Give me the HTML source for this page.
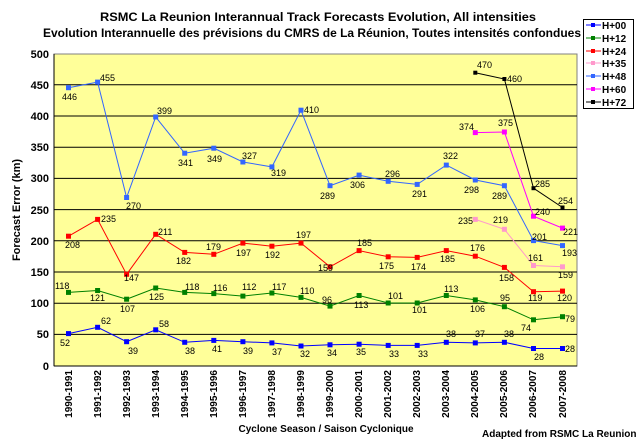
<!DOCTYPE html>
<html><head><meta charset="utf-8"><style>
body{margin:0;background:#fff;}
svg{display:block;font-family:"Liberation Sans",Arial,sans-serif;}
.t{font-weight:bold;font-size:12px;}
.yl{font-weight:bold;font-size:11px;text-anchor:end;}
.xl{font-weight:bold;font-size:10px;text-anchor:end;}
.d{font-size:9px;}
.lg{font-weight:bold;font-size:10px;}
</style></head><body>
<svg width="640" height="440" viewBox="0 0 640 440">
<text class="t" x="318" y="21" text-anchor="middle" textLength="436" lengthAdjust="spacingAndGlyphs">RSMC La Reunion Interannual Track Forecasts Evolution, All intensities</text>
<text class="t" x="43" y="37" textLength="538" lengthAdjust="spacingAndGlyphs">Evolution Interannuelle des prévisions du CMRS de La Réunion, Toutes intensités confondues</text>
<rect x="54" y="54" width="523" height="312" fill="#ffff99" stroke="#808080" stroke-width="1"/>
<g stroke="#000" stroke-width="1">
<line x1="54" x2="577" y1="84.8" y2="84.8"/><line x1="54" x2="577" y1="116" y2="116"/><line x1="54" x2="577" y1="147.2" y2="147.2"/><line x1="54" x2="577" y1="178.4" y2="178.4"/><line x1="54" x2="577" y1="209.6" y2="209.6"/><line x1="54" x2="577" y1="240.8" y2="240.8"/><line x1="54" x2="577" y1="272" y2="272"/><line x1="54" x2="577" y1="303.2" y2="303.2"/><line x1="54" x2="577" y1="334.4" y2="334.4"/>
<line x1="54" x2="54" y1="54" y2="366"/><line x1="54" x2="577" y1="366" y2="366"/>
</g>
<g class="yl">
<text x="49" y="58">500</text><text x="49" y="89">450</text><text x="49" y="120">400</text><text x="49" y="151">350</text><text x="49" y="182">300</text><text x="49" y="214">250</text><text x="49" y="245">200</text><text x="49" y="276">150</text><text x="49" y="307">100</text><text x="49" y="338">50</text><text x="49" y="370">0</text>
</g>
<g class="xl">
<text transform="translate(72,370) rotate(-90)">1990-1991</text>
<text transform="translate(101,370) rotate(-90)">1991-1992</text>
<text transform="translate(130,370) rotate(-90)">1992-1993</text>
<text transform="translate(159,370) rotate(-90)">1993-1994</text>
<text transform="translate(188,370) rotate(-90)">1994-1995</text>
<text transform="translate(217,370) rotate(-90)">1995-1996</text>
<text transform="translate(246,370) rotate(-90)">1996-1997</text>
<text transform="translate(275,370) rotate(-90)">1997-1998</text>
<text transform="translate(304,370) rotate(-90)">1998-1999</text>
<text transform="translate(333,370) rotate(-90)">1999-2000</text>
<text transform="translate(362,370) rotate(-90)">2000-2001</text>
<text transform="translate(391,370) rotate(-90)">2001-2002</text>
<text transform="translate(420,370) rotate(-90)">2002-2003</text>
<text transform="translate(449,370) rotate(-90)">2003-2004</text>
<text transform="translate(478,370) rotate(-90)">2004-2005</text>
<text transform="translate(507,370) rotate(-90)">2005-2006</text>
<text transform="translate(536,370) rotate(-90)">2006-2007</text>
<text transform="translate(566,370) rotate(-90)">2007-2008</text>
</g>
<text class="t" style="font-size:11px" transform="translate(20,210) rotate(-90)" text-anchor="middle">Forecast Error (km)</text>
<text class="t" style="font-size:10px" x="326" y="432" text-anchor="middle">Cyclone Season / Saison Cyclonique</text>
<text class="t" style="font-size:10px" x="482" y="437">Adapted from RSMC La Reunion</text>

<!-- H+00 -->
<polyline fill="none" stroke="#0000ff" points="68.5,333.6 97.6,327.3 126.6,341.7 155.7,329.8 184.7,342.3 213.8,340.4 242.9,341.7 271.9,342.9 301,346 330,344.8 359.1,344.2 388.2,345.4 417.2,345.4 446.3,342.3 475.3,342.9 504.4,342.3 533.5,348.5 562.5,348.5"/>
<g fill="#0000ff"><rect x="66" y="331.1" width="5" height="5"/><rect x="95.1" y="324.8" width="5" height="5"/><rect x="124.1" y="339.2" width="5" height="5"/><rect x="153.2" y="327.3" width="5" height="5"/><rect x="182.2" y="339.8" width="5" height="5"/><rect x="211.3" y="337.9" width="5" height="5"/><rect x="240.4" y="339.2" width="5" height="5"/><rect x="269.4" y="340.4" width="5" height="5"/><rect x="298.5" y="343.5" width="5" height="5"/><rect x="327.5" y="342.3" width="5" height="5"/><rect x="356.6" y="341.7" width="5" height="5"/><rect x="385.7" y="342.9" width="5" height="5"/><rect x="414.7" y="342.9" width="5" height="5"/><rect x="443.8" y="339.8" width="5" height="5"/><rect x="472.8" y="340.4" width="5" height="5"/><rect x="501.9" y="339.8" width="5" height="5"/><rect x="531" y="346" width="5" height="5"/><rect x="560" y="346" width="5" height="5"/></g>
<g class="d"><text x="60" y="346">52</text><text x="101" y="324">62</text><text x="128" y="354">39</text><text x="159" y="327">58</text><text x="185" y="354">38</text><text x="212" y="352">41</text><text x="243" y="354">39</text><text x="272" y="355">37</text><text x="300" y="357">32</text><text x="327" y="356">34</text><text x="356" y="355">35</text><text x="389" y="357">33</text><text x="418" y="357">33</text><text x="446" y="337">38</text><text x="475" y="337">37</text><text x="504" y="337">38</text><text x="534" y="360">28</text><text x="565" y="352">28</text></g>

<!-- H+12 -->
<polyline fill="none" stroke="#008000" points="68.5,292.4 97.6,290.5 126.6,299.2 155.7,288 184.7,292.4 213.8,293.6 242.9,296.1 271.9,293 301,297.4 330,306.1 359.1,295.5 388.2,303 417.2,303 446.3,295.5 475.3,299.9 504.4,306.7 533.5,319.8 562.5,316.7"/>
<g fill="#008000"><rect x="66" y="289.9" width="5" height="5"/><rect x="95.1" y="288" width="5" height="5"/><rect x="124.1" y="296.7" width="5" height="5"/><rect x="153.2" y="285.5" width="5" height="5"/><rect x="182.2" y="289.9" width="5" height="5"/><rect x="211.3" y="291.1" width="5" height="5"/><rect x="240.4" y="293.6" width="5" height="5"/><rect x="269.4" y="290.5" width="5" height="5"/><rect x="298.5" y="294.9" width="5" height="5"/><rect x="327.5" y="303.6" width="5" height="5"/><rect x="356.6" y="293" width="5" height="5"/><rect x="385.7" y="300.5" width="5" height="5"/><rect x="414.7" y="300.5" width="5" height="5"/><rect x="443.8" y="293" width="5" height="5"/><rect x="472.8" y="297.4" width="5" height="5"/><rect x="501.9" y="304.2" width="5" height="5"/><rect x="531" y="317.3" width="5" height="5"/><rect x="560" y="314.2" width="5" height="5"/></g>
<g class="d"><text x="55" y="289">118</text><text x="90" y="301">121</text><text x="120" y="312">107</text><text x="149" y="300">125</text><text x="185" y="290">118</text><text x="213" y="291">116</text><text x="242" y="290">112</text><text x="272" y="290">117</text><text x="300" y="294">110</text><text x="322" y="303">96</text><text x="354" y="308">113</text><text x="388" y="299">101</text><text x="412" y="313">101</text><text x="444" y="292">113</text><text x="470" y="312">106</text><text x="500" y="301">95</text><text x="521" y="331">74</text><text x="565" y="322">79</text></g>

<!-- H+24 -->
<polyline fill="none" stroke="#ff0000" points="68.5,236.2 97.6,219.4 126.6,274.3 155.7,234.3 184.7,252.4 213.8,254.3 242.9,243.1 271.9,246.2 301,243.1 330,266.8 359.1,250.6 388.2,256.8 417.2,257.4 446.3,250.6 475.3,256.2 504.4,267.4 533.5,291.7 562.5,291.1"/>
<g fill="#ff0000"><rect x="66" y="233.7" width="5" height="5"/><rect x="95.1" y="216.9" width="5" height="5"/><rect x="124.1" y="271.8" width="5" height="5"/><rect x="153.2" y="231.8" width="5" height="5"/><rect x="182.2" y="249.9" width="5" height="5"/><rect x="211.3" y="251.8" width="5" height="5"/><rect x="240.4" y="240.6" width="5" height="5"/><rect x="269.4" y="243.7" width="5" height="5"/><rect x="298.5" y="240.6" width="5" height="5"/><rect x="327.5" y="264.3" width="5" height="5"/><rect x="356.6" y="248.1" width="5" height="5"/><rect x="385.7" y="254.3" width="5" height="5"/><rect x="414.7" y="254.9" width="5" height="5"/><rect x="443.8" y="248.1" width="5" height="5"/><rect x="472.8" y="253.7" width="5" height="5"/><rect x="501.9" y="264.9" width="5" height="5"/><rect x="531" y="289.2" width="5" height="5"/><rect x="560" y="288.6" width="5" height="5"/></g>
<g class="d"><text x="65" y="248">208</text><text x="101" y="222">235</text><text x="124" y="281">147</text><text x="158" y="235">211</text><text x="176" y="264">182</text><text x="206" y="250">179</text><text x="236" y="256">197</text><text x="265" y="258">192</text><text x="296" y="238">197</text><text x="318" y="271">159</text><text x="357" y="246">185</text><text x="379" y="269">175</text><text x="411" y="270">174</text><text x="440" y="262">185</text><text x="470" y="251">176</text><text x="499" y="281">158</text><text x="528" y="301">119</text><text x="557" y="301">120</text></g>

<!-- H+35 -->
<polyline fill="none" stroke="#ff99cc" points="475.3,219.4 504.4,229.3 533.5,265.5 562.5,266.8"/>
<g fill="#ff99cc"><rect x="472.8" y="216.9" width="5" height="5"/><rect x="501.9" y="226.8" width="5" height="5"/><rect x="531" y="263" width="5" height="5"/><rect x="560" y="264.3" width="5" height="5"/></g>
<g class="d"><text x="458" y="224">235</text><text x="493" y="223">219</text><text x="528" y="261">161</text><text x="558" y="278">159</text></g>

<!-- H+48 -->
<polyline fill="none" stroke="#3366ff" points="68.5,87.7 97.6,82.1 126.6,197.5 155.7,117 184.7,153.2 213.8,148.2 242.9,162 271.9,166.9 301,110.2 330,185.7 359.1,175.1 388.2,181.3 417.2,184.4 446.3,165.1 475.3,180 504.4,185.7 533.5,240.6 562.5,245.6"/>
<g fill="#3366ff"><rect x="66" y="85.2" width="5" height="5"/><rect x="95.1" y="79.6" width="5" height="5"/><rect x="124.1" y="195" width="5" height="5"/><rect x="153.2" y="114.5" width="5" height="5"/><rect x="182.2" y="150.7" width="5" height="5"/><rect x="211.3" y="145.7" width="5" height="5"/><rect x="240.4" y="159.5" width="5" height="5"/><rect x="269.4" y="164.4" width="5" height="5"/><rect x="298.5" y="107.7" width="5" height="5"/><rect x="327.5" y="183.2" width="5" height="5"/><rect x="356.6" y="172.6" width="5" height="5"/><rect x="385.7" y="178.8" width="5" height="5"/><rect x="414.7" y="181.9" width="5" height="5"/><rect x="443.8" y="162.6" width="5" height="5"/><rect x="472.8" y="177.5" width="5" height="5"/><rect x="501.9" y="183.2" width="5" height="5"/><rect x="531" y="238.1" width="5" height="5"/><rect x="560" y="243.1" width="5" height="5"/></g>
<g class="d"><text x="62" y="100">446</text><text x="100" y="81">455</text><text x="126" y="209">270</text><text x="157" y="114">399</text><text x="178" y="166">341</text><text x="207" y="162">349</text><text x="242" y="159">327</text><text x="271" y="176">319</text><text x="304" y="113">410</text><text x="320" y="199">289</text><text x="350" y="188">306</text><text x="385" y="177">296</text><text x="412" y="197">291</text><text x="443" y="159">322</text><text x="464" y="193">298</text><text x="492" y="199">289</text><text x="532" y="240">201</text><text x="562" y="256">193</text></g>

<!-- H+60 -->
<polyline fill="none" stroke="#ff00ff" points="475.3,132.6 504.4,132 533.5,216.2 562.5,228.1"/>
<g fill="#ff00ff"><rect x="472.8" y="130.1" width="5" height="5"/><rect x="501.9" y="129.5" width="5" height="5"/><rect x="531" y="213.7" width="5" height="5"/><rect x="560" y="225.6" width="5" height="5"/></g>
<g class="d"><text x="459" y="130">374</text><text x="498" y="126">375</text><text x="535" y="215">240</text><text x="563" y="235">221</text></g>

<!-- H+72 -->
<polyline fill="none" stroke="#000" points="475.3,72.7 504.4,79 533.5,188.2 562.5,207.5"/>
<g fill="#000"><rect x="473.3" y="70.7" width="4" height="4"/><rect x="502.4" y="77" width="4" height="4"/><rect x="531.5" y="186.2" width="4" height="4"/><rect x="560.5" y="205.5" width="4" height="4"/></g>
<g class="d"><text x="477" y="68">470</text><text x="507" y="82">460</text><text x="535" y="187">285</text><text x="558" y="204">254</text></g>

<!-- Legend -->
<rect x="583.5" y="19.5" width="50" height="89" fill="#fff" stroke="#000"/>
<g stroke-width="1">
<line x1="586" x2="601" y1="25" y2="25" stroke="#0000ff"/><rect x="591" y="23" width="4" height="4" fill="#0000ff"/>
<line x1="586" x2="601" y1="38" y2="38" stroke="#008000"/><rect x="591" y="36" width="4" height="4" fill="#008000"/>
<line x1="586" x2="601" y1="51" y2="51" stroke="#ff0000"/><rect x="591" y="49" width="4" height="4" fill="#ff0000"/>
<line x1="586" x2="601" y1="63" y2="63" stroke="#ff99cc"/><rect x="591" y="61" width="4" height="4" fill="#ff99cc"/>
<line x1="586" x2="601" y1="76" y2="76" stroke="#3366ff"/><rect x="591" y="74" width="4" height="4" fill="#3366ff"/>
<line x1="586" x2="601" y1="89" y2="89" stroke="#ff00ff"/><rect x="591" y="87" width="4" height="4" fill="#ff00ff"/>
<line x1="586" x2="601" y1="102" y2="102" stroke="#000"/><rect x="591" y="100" width="4" height="4" fill="#000"/>
</g>
<g class="lg"><text x="602" y="29">H+00</text><text x="602" y="42">H+12</text><text x="602" y="55">H+24</text><text x="602" y="67">H+35</text><text x="602" y="80">H+48</text><text x="602" y="93">H+60</text><text x="602" y="106">H+72</text></g>
</svg>
</body></html>
